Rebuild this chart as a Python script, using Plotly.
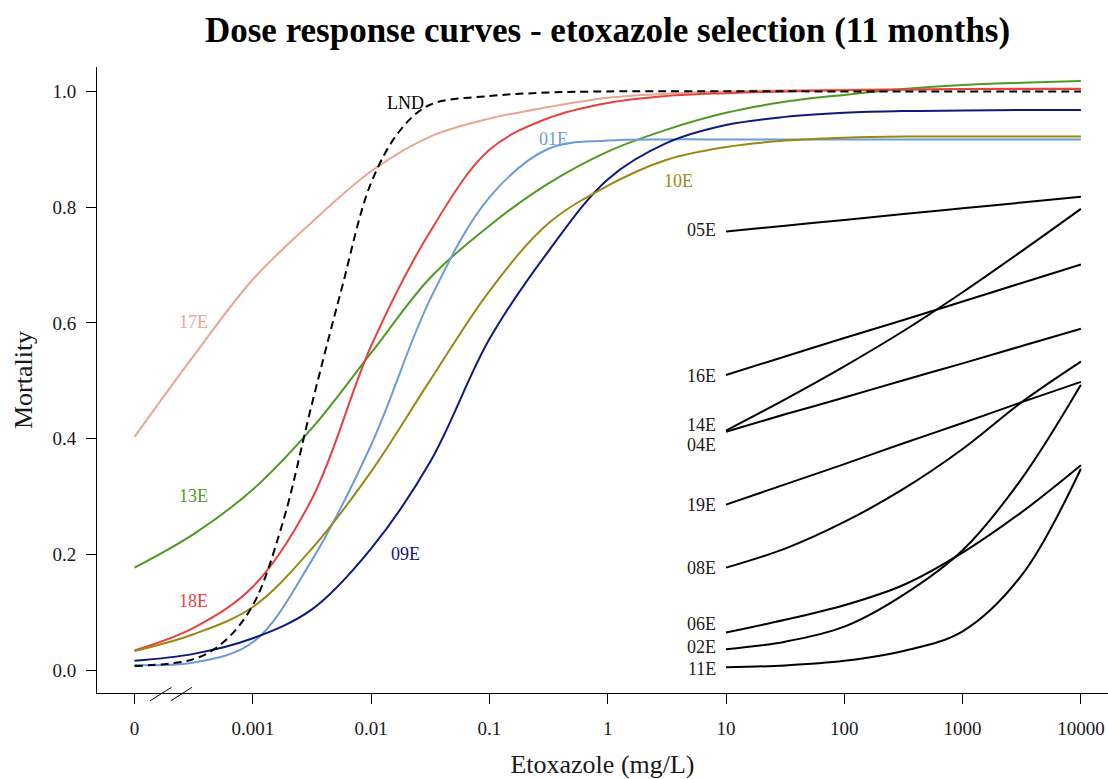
import math
import plotly.graph_objects as go

# Doses (mg/L); the lowest entry stands in for the zero-dose control on the log axis
dose = [0.0001, 0.000316, 0.001, 0.00316, 0.01, 0.0316, 0.1, 0.316, 1, 3.16,
        10, 31.6, 100, 316, 1000, 3162, 10000]
dose_lnd = [0.0001, 0.000316, 0.000562, 0.001, 0.00178, 0.00316, 0.00562, 0.01,
            0.0178, 0.0316, 0.1, 0.316, 1, 100, 1000, 10000]
dose_hi = [10, 31.6, 100, 316, 1000, 3162, 10000]

# Fitted mortality, full-range strains
m17E = [0.403, 0.543, 0.675, 0.774, 0.862, 0.922, 0.953, 0.973, 0.989, 0.996,
        1.000, 1.002, 1.003, 1.004, 1.004, 1.005, 1.005]
m18E = [0.034, 0.073, 0.144, 0.296, 0.560, 0.758, 0.899, 0.954, 0.980, 0.992,
        0.997, 1.000, 1.002, 1.003, 1.004, 1.004, 1.004]
m13E = [0.177, 0.235, 0.312, 0.418, 0.548, 0.678, 0.768, 0.841, 0.896, 0.934,
        0.963, 0.982, 0.994, 1.004, 1.011, 1.015, 1.018]
m01E = [0.009, 0.013, 0.048, 0.190, 0.389, 0.641, 0.817, 0.901, 0.915, 0.917,
        0.917, 0.917, 0.917, 0.917, 0.917, 0.917, 0.917]
m09E = [0.016, 0.028, 0.055, 0.105, 0.210, 0.360, 0.572, 0.724, 0.848, 0.911,
        0.942, 0.956, 0.963, 0.966, 0.967, 0.968, 0.968]
m10E = [0.033, 0.062, 0.109, 0.210, 0.343, 0.501, 0.655, 0.772, 0.837, 0.882,
        0.904, 0.915, 0.920, 0.922, 0.922, 0.922, 0.922]
mLND = [0.007, 0.019, 0.048, 0.112, 0.253, 0.460, 0.658, 0.842, 0.934, 0.977,
        0.992, 0.998, 1.000, 1.000, 1.000, 1.000]

# Fitted mortality, strains tested only at high doses
m05E = [0.758, 0.768, 0.778, 0.788, 0.798, 0.808, 0.818]
m16E = [0.510, 0.542, 0.574, 0.605, 0.637, 0.669, 0.701]
m14E = [0.414, 0.468, 0.525, 0.586, 0.653, 0.724, 0.797]
m04E = [0.412, 0.442, 0.471, 0.501, 0.530, 0.560, 0.590]
m19E = [0.286, 0.321, 0.356, 0.392, 0.427, 0.463, 0.498]
m08E = [0.177, 0.210, 0.256, 0.313, 0.382, 0.463, 0.533]
m06E = [0.065, 0.087, 0.112, 0.147, 0.203, 0.273, 0.354]
m02E = [0.036, 0.049, 0.075, 0.130, 0.207, 0.331, 0.493]
m11E = [0.005, 0.008, 0.016, 0.033, 0.067, 0.164, 0.348]

tick_vals = [0.0001, 0.001, 0.01, 0.1, 1, 10, 100, 1000, 10000]
tick_text = ["0", "0.001", "0.01", "0.1", "1", "10", "100", "1000", "10000"]
y_ticks = [0.0, 0.2, 0.4, 0.6, 0.8, 1.0]

SERIF = "Liberation Serif, Times New Roman, serif"
TXT = "#1a1a1a"

# name, doses, mortality, colour, label dose, label mortality
colored = [
    ("17E", dose, m17E, "#E9A593", 0.000313, 0.601),
    ("13E", dose, m13E, "#4E9A22", 0.000313, 0.301),
    ("18E", dose, m18E, "#E8413F", 0.000313, 0.119),
    ("01E", dose, m01E, "#6C9BDA", 0.345, 0.918),
    ("09E", dose, m09E, "#0E1A7E", 0.0197, 0.200),
    ("10E", dose, m10E, "#9A8814", 3.93, 0.846),
]

# name, mortality, label mortality
black = [
    ("05E", m05E, 0.760), ("16E", m16E, 0.509), ("14E", m14E, 0.424),
    ("04E", m04E, 0.389), ("19E", m19E, 0.285), ("08E", m08E, 0.176),
    ("06E", m06E, 0.080), ("02E", m02E, 0.040), ("11E", m11E, 0.002),
]

fig = go.Figure()
annotations = []
LBL = 18

for name, xs, ys, color, lx, ly in colored:
    fig.add_trace(go.Scatter(x=xs, y=ys, mode="lines", name=name,
                             line=dict(color=color, width=2, shape="spline", smoothing=1.0)))
    annotations.append(dict(x=math.log10(lx), y=ly, xref="x", yref="y", text=name,
                            showarrow=False, font=dict(family=SERIF, size=LBL, color=color)))

fig.add_trace(go.Scatter(x=dose_lnd, y=mLND, mode="lines", name="LND",
                         line=dict(color="black", width=2, dash="8px,5px",
                                   shape="spline", smoothing=1.0)))
annotations.append(dict(x=math.log10(0.0194), y=0.980, xref="x", yref="y", text="LND",
                        showarrow=False, font=dict(family=SERIF, size=LBL, color="black")))

for name, ys, ly in black:
    fig.add_trace(go.Scatter(x=dose_hi, y=ys, mode="lines", name=name,
                             line=dict(color="black", width=2, shape="spline")))
    annotations.append(dict(x=math.log10(dose_hi[0]), y=ly, xref="x", yref="y", text=name,
                            xanchor="right", xshift=-8, showarrow=False,
                            font=dict(family=SERIF, size=LBL, color=TXT)))

# axis break marks near the zero-dose tick
break_marks = [
    dict(type="line", xref="paper", yref="paper", x0=0.0524, y0=-0.0126, x1=0.0736, y1=0.0091,
         line=dict(color="black", width=1)),
    dict(type="line", xref="paper", yref="paper", x0=0.0729, y0=-0.0126, x1=0.0940, y1=0.0091,
         line=dict(color="black", width=1)),
]

fig.update_layout(
    width=1108, height=779,
    margin=dict(l=97, r=0, t=67, b=84),
    paper_bgcolor="white", plot_bgcolor="white",
    showlegend=False,
    title=dict(text="<b>Dose response curves - etoxazole selection (11 months)</b>",
               x=0.505, xref="paper", xanchor="center", y=0.962, yanchor="middle",
               font=dict(family=SERIF, size=35, color="black")),
    font=dict(family=SERIF, size=19, color=TXT),
    annotations=annotations,
    shapes=break_marks,
)

fig.update_xaxes(
    type="log", range=[-4.317, 4.229],
    tickvals=tick_vals, ticktext=tick_text,
    showline=True, linecolor="black", linewidth=1,
    ticks="outside", ticklen=10, tickcolor="black",
    ticklabelstandoff=8,
    showgrid=False, zeroline=False,
    tickfont=dict(family=SERIF, size=19, color=TXT),
    title=dict(text="Etoxazole (mg/L)", font=dict(family=SERIF, size=26, color=TXT),
               standoff=22),
)
fig.update_yaxes(
    range=[-0.0396, 1.0422],
    tickvals=y_ticks, tickformat=".1f",
    showline=True, linecolor="black", linewidth=1,
    ticks="outside", ticklen=10, tickcolor="black",
    ticklabelstandoff=6,
    showgrid=False, zeroline=False,
    tickfont=dict(family=SERIF, size=19, color=TXT),
    title=dict(text="Mortality", font=dict(family=SERIF, size=26, color=TXT),
               standoff=12),
)

fig.write_html("out.html")
